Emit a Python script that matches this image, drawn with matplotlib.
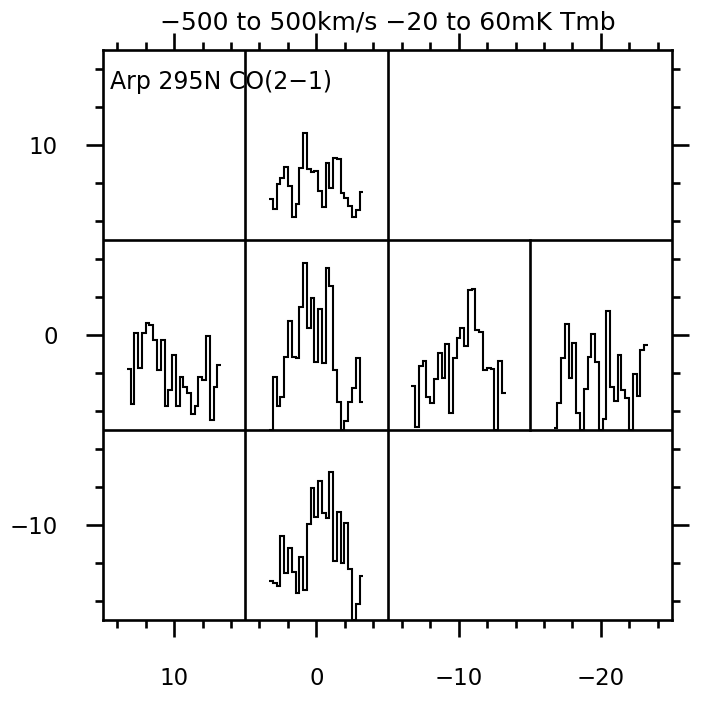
import numpy as np
import matplotlib
matplotlib.use("Agg")
import matplotlib.pyplot as plt

# ---- data ----
# channel edges in km/s (25 channels)
vel_edges = np.linspace(-332, 330, 26)

# map offsets (arcsec) of each spectrum cell
cell_dx = [0, 10, 0, -10, -20, 0]
cell_dy = [10, 0, 0, 0, 0, -10]

# Tmb in mK (values below -20 are clipped in the plot)
spec_top = [-2.6, -7.1, 3.4, 6.2, 10.9, 2.9, -10.2, -4.8, 10.5, 24.9, 9.9, 8.8, 9.2,
            0.8, -6.0, 12.6, 2.0, 14.7, 14.1, -0.4, -2.5, -5.5, -10.2, -7.4, 0.1]
spec_left = [5.8, -9.0, 20.7, 6.1, 20.7, 24.9, 24.1, 17.8, 5.4, 17.8, -9.9, -3.2, 11.4,
             -9.9, 2.2, -2.0, -4.6, -13.3, -9.9, 2.2, 1.1, 19.6, -15.8, -1.8, 7.5]
spec_center = [-25, 2.5, -9.8, -6.2, 10.6, 25.9, 10.6, 10.2, 31.9, 50.5, 23.1, 35.7, 8.5,
               30.8, 8.1, 48.1, 40.8, 5.3, -8.1, -25, -16.1, -8.3, -2.5, 10.2, -8.1]
spec_right = [-1.3, -18.6, 7.1, 9.2, -6.0, -8.8, 1.6, 12.3, 2.0, 16.1, -12.7, 10.2, 18.6,
              23.1, 15.4, 38.9, 39.5, 22.1, 21.4, 5.3, 6.2, 5.7, -25, 9.1, -4.6]
spec_far = [-19.3, -8.5, 10.5, 24.5, 2.0, 16.5, -12.7, -25, -2.9, 10.9, 20.3, 8.8, -25,
            -15.5, 30.2, -2.0, -7.7, 11.6, -3.2, -6.7, -25, 3.6, -5.7, 13.7, 15.8]
spec_bottom = [-3.4, -4.6, -5.5, 15.5, -0.4, 10.2, 0.1, -8.5, 6.7, -7.4, 20.3, 35.4, 23.5,
               38.7, 24.9, 23.1, 42.5, 4.8, 25.3, 4.1, 20.7, 1.3, -25, -13.3, -1.3]
spectra = [spec_top, spec_left, spec_center, spec_right, spec_far, spec_bottom]

v_min, v_max = -500, 500
t_min, t_max = -20, 60
cell = 10.0

title_text = "\u2212500 to 500km/s \u221220 to 60mK Tmb"
label_text = "Arp 295N CO(2\u22121)"

fig = plt.figure(figsize=(7.05, 7.01), dpi=100)
ax = fig.add_axes([103/705, 1-620/701, (672-103)/705, (620-50)/701])
ax.set_xlim(15, -25)
ax.set_ylim(-15, 15)

lw_frame = 1.9
lw_spec = 1.5
for dx, dy, sp in zip(cell_dx, cell_dy, spectra):
    t = np.clip(np.asarray(sp, float), t_min, t_max)
    xe = dx + cell/2 - (vel_edges - v_min) / (v_max - v_min) * cell
    yv = dy - cell/2 + (t - t_min) / (t_max - t_min) * cell
    ax.stairs(yv, xe, baseline=None, color='black', lw=lw_spec)

# cell boundaries
ax.axhline(5, color='black', lw=lw_frame)
ax.axhline(-5, color='black', lw=lw_frame)
ax.axvline(5, color='black', lw=lw_frame)
ax.axvline(-5, color='black', lw=lw_frame)
ax.plot([-15, -15], [-5, 5], color='black', lw=lw_frame)

for s in ax.spines.values():
    s.set_linewidth(lw_frame)

ax.set_xticks([10, 0, -10, -20])
ax.set_yticks([10, 0, -10])
ax.set_xticks(np.arange(-24, 15, 2), minor=True)
ax.set_yticks(np.arange(-14, 15, 2), minor=True)
ax.tick_params(which='both', direction='out', top=True, right=True, width=lw_frame,
               labelsize=16.5)
ax.tick_params(which='major', length=12.5)
ax.tick_params(which='minor', length=5.8)
ax.tick_params(axis='x', pad=21)
ax.tick_params(axis='y', pad=20)

ax.text(0.012, 0.965, label_text, transform=ax.transAxes, ha='left', va='top', fontsize=17)
fig.text(388/705, 1-22/701, title_text, ha='center', va='center', fontsize=18)

fig.savefig("out.png", dpi=100)
